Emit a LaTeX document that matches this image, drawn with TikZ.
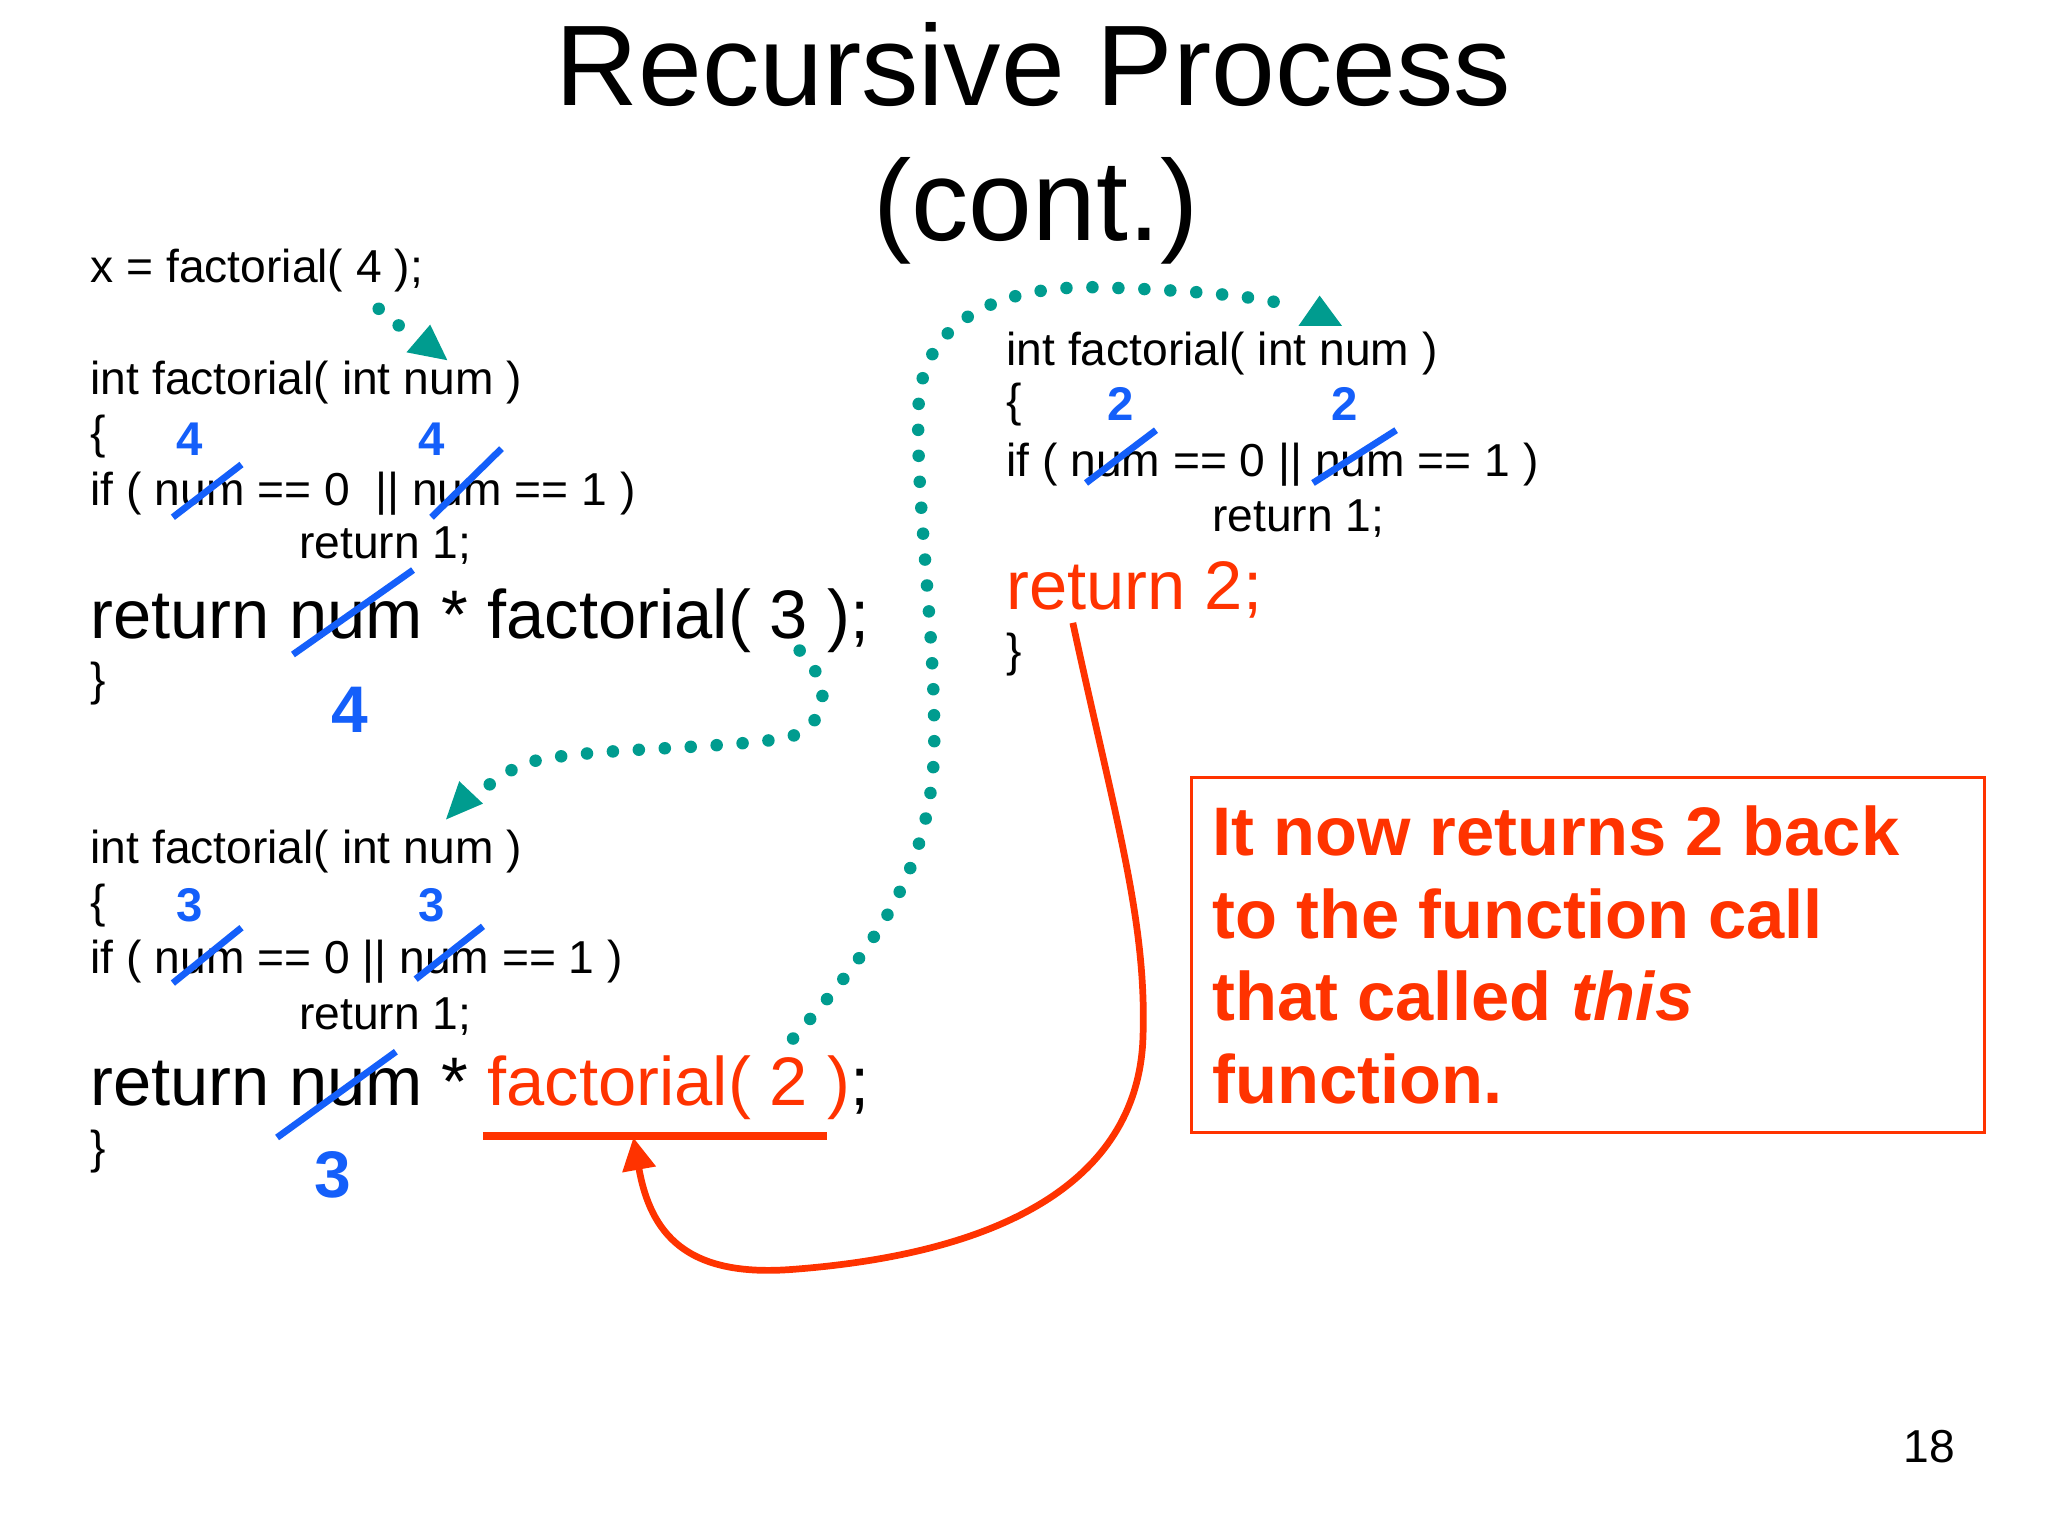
\documentclass[tikz,border=0pt]{standalone}
\usepackage{fontspec}
\setmainfont{Liberation Sans}
\usetikzlibrary{arrows.meta}
\definecolor{redc}{RGB}{255,51,0}
\definecolor{numblue}{RGB}{20,95,250}
\definecolor{tealc}{RGB}{0,156,143}
\newcommand{\smallcode}{\fontsize{9.95pt}{12pt}\selectfont}
\newcommand{\bigcode}{\fontsize{14.8pt}{17.8pt}\selectfont}
\tikzset{
  code/.style={font=\smallcode, anchor=base west, inner sep=0pt},
  bigline/.style={font=\bigcode, anchor=base west, inner sep=0pt},
  numsmall/.style={font=\fontsize{10.2pt}{12pt}\selectfont\bfseries, text=numblue, inner sep=0pt},
  numbig/.style={font=\fontsize{14.2pt}{17pt}\selectfont\bfseries, text=numblue, inner sep=0pt},
  strike/.style={draw=numblue, line width=1.45pt},
  dotline/.style={draw=tealc, line width=2.7pt, line cap=round, dash pattern=on 0pt off 5.6pt},
  tiptri/.style={fill=tealc},
  boxline/.style={font=\bigcode\bfseries, text=redc, anchor=base west, inner sep=0pt},
}
\begin{document}
\begin{tikzpicture}[x=0.01cm, y=-0.01cm]
\useasboundingbox (0,0) rectangle (1552,1164);
\fill[white] (0,0) rectangle (1552,1164);

% title
\node[font=\fontsize{24.7pt}{29pt}\selectfont, anchor=base, inner sep=0pt] (t1) at (783,80) {Recursive Process};
\node[font=\fontsize{24.7pt}{29pt}\selectfont, anchor=base, inner sep=0pt] (t2) at (785,182) {(cont.)};

% call
\node[code] (call) at (68,214) {x = factorial( 4 );};

% block 1
\node[code] (a1) at (68,299) {int factorial( int num )};
\node[code] (a2) at (68,340) {\{};
\node[code] (a3) at (68,383) {if ( num == 0 \ || num == 1 )};
\node[code] (a4) at (226,423) {return 1;};
\node[bigline] (a5) at (68,484) {return num * factorial( 3 );};
\node[code] (a6) at (68,527) {\}};
\node[numsmall] (n1) at (144,333) {4};
\node[numsmall] (n2) at (327,333) {4};
\node[numbig] (n3) at (265,538) {4};
\draw[strike] (131,392) -- (183,352);
\draw[strike] (327,392) -- (380,340);
\draw[strike] (222,496) -- (313,432);

% block 2
\node[code] (b1) at (68,654) {int factorial( int num )};
\node[code] (b2) at (68,695) {\{};
\node[code] (b3) at (68,738) {if ( num == 0 || num == 1 )};
\node[code] (b4) at (226,780) {return 1;};
\node[bigline] (b5) at (68,838) {return num * \textcolor{redc}{factorial( 2 )};};
\node[code] (b6) at (68,882) {\}};
\node[numsmall] (m1) at (144,686) {3};
\node[numsmall] (m2) at (327,686) {3};
\node[numbig] (m3) at (252,890) {3};
\draw[strike] (131,745) -- (183,703);
\draw[strike] (315,742) -- (366,702);
\draw[strike] (210,862) -- (300,797);
\coordinate (ulA) at (366,861);
\coordinate (ulB) at (627,861);
\draw[redc, line width=1.7pt] (ulA) -- (ulB);

% block 3 (right)
\node[code] (c1) at (762,277) {int factorial( int num )};
\node[code] (c2) at (762,316) {\{};
\node[code] (c3) at (762,361) {if ( num == 0 || num == 1 )};
\node[code] (c4) at (918,403) {return 1;};
\node[bigline, text=redc] (c5) at (762,462) {return 2;};
\node[code] (c6) at (762,505) {\}};
\node[numsmall] (k1) at (849,306) {2};
\node[numsmall] (k2) at (1019,306) {2};
\draw[strike] (823,366) -- (876,326);
\draw[strike] (995,366) -- (1058,326);

% teal dotted arrows
\coordinate (d1s) at (287,234);
\coordinate (d1e) at (305,249);
\draw[dotline] (d1s) -- (d1e);
\fill[tiptri] (339,273) -- (326,246) -- (308,267) -- cycle;

\coordinate (d2s) at (606,493);
\coordinate (d2e) at (368,597);
\draw[dotline] (d2s) .. controls (628,515) and (632,545) .. (600,558)
  .. controls (560,568) and (440,566) .. (400,578)
  .. controls (387,583) and (376,590) .. (d2e);
\fill[tiptri] (338,621) -- (348,592) -- (366,609) -- cycle;

\coordinate (d3s) at (601,787);
\coordinate (d3e) at (975,231);
\draw[dotline] (d3s) .. controls (660,720) and (708,660) .. (708,560)
  .. controls (708,470) and (694,380) .. (696,310)
  .. controls (698,230) and (780,215) .. (840,218)
  .. controls (900,220) and (950,224) .. (d3e);
\fill[tiptri] (1000,224) -- (984,247) -- (1017,247) -- cycle;

% red return arrow
\coordinate (rs) at (813,472);
\coordinate (re) at (480,862);
\draw[redc, line width=1.45pt, -{Triangle[length=7pt,width=7pt]}] (rs)
  .. controls (845,620) and (870,700) .. (866,790)
  .. controls (860,895) and (760,950) .. (600,962)
  .. controls (520,968) and (493,935) .. (re);

% red box
\node[draw=redc, line width=0.6pt, minimum width=601*0.01cm, minimum height=269*0.01cm, anchor=north west, inner sep=0pt] (box) at (902,588) {};
\node[boxline] (l1) at (918,648) {It now returns 2 back};
\node[boxline] (l2) at (918,711) {to the function call};
\node[boxline] (l3) at (918,773) {that called \textit{this}};
\node[boxline] (l4) at (918,836) {function.};

% page number
\node[code] (pg) at (1442,1108) {18};
\end{tikzpicture}
\end{document}
